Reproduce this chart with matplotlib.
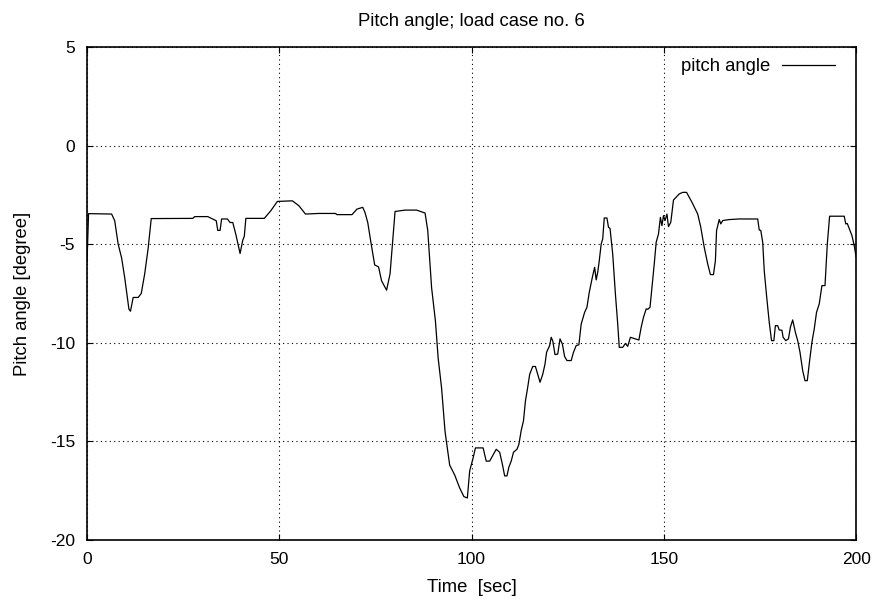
import matplotlib
matplotlib.use('Agg')
import matplotlib.pyplot as plt

plt.rcParams['font.family'] = ['Liberation Sans', 'DejaVu Sans']
plt.rcParams['axes.unicode_minus'] = False

# pitch angle trace (time in sec, angle in degree)
time_s = [0.0, 0.4, 6.4, 7.2, 8.1, 9.0, 9.8, 10.9, 11.3, 12.0, 13.3, 14.1, 15.0, 15.9, 16.7,
          27.5, 28.0, 31.4, 33.6, 34.0, 34.6, 35.0, 36.5, 37.2, 37.9, 38.7, 39.8, 40.5, 40.9,
          41.3, 46.1, 47.8, 49.5, 53.4, 55.1, 56.8, 60.3, 64.6, 65.0, 68.9, 70.2, 71.7, 72.3,
          73.0, 73.9, 74.8, 75.8, 76.6, 77.9, 78.8, 80.1, 82.7, 85.7, 87.9, 88.6, 89.6, 90.6,
          91.3, 92.2, 93.1, 94.3, 95.6, 96.9, 98.0, 98.9, 99.5, 100.4, 101.0, 103.0, 103.8,
          104.7, 106.4,
          107.3, 108.0, 108.6, 109.2, 109.7, 110.3, 110.9, 111.8, 112.3, 112.9, 113.5, 114.0,
          114.6, 115.1, 115.9, 116.6, 117.8, 118.5, 119.1, 119.5, 120.3, 120.7, 121.1, 121.7,
          122.4, 123.0, 123.6, 124.2, 124.8, 125.9, 126.5, 127.2, 127.9, 128.5, 129.4, 130.0,
          130.6, 131.4, 132.0, 132.4, 132.8, 133.2, 133.7, 134.1,
          134.5, 135.2, 135.6, 136.0, 136.7, 137.4, 138.0, 138.4, 139.3, 140.0, 140.6, 141.3,
          143.5, 144.1, 144.7, 145.4, 145.8, 146.4, 146.9, 147.5, 148.0, 148.6, 149.1, 149.5,
          149.9, 150.3, 150.8, 151.2, 151.8, 152.5, 154.0, 154.9, 155.9, 157.3, 158.8, 159.6,
          160.5, 161.4, 162.1, 162.9, 163.4, 163.7, 164.4, 164.8, 165.3, 167.0, 169.6,
          174.4, 174.8, 175.2, 175.7, 176.1, 176.7, 177.4, 178.0, 178.6, 179.0, 179.6, 180.0,
          180.7, 181.0, 181.7, 182.4, 182.9, 183.5, 184.2, 184.8, 185.4, 186.1, 186.7, 187.3,
          187.8, 188.5, 189.1, 189.7, 190.4, 191.1, 191.9, 192.5, 193.1, 196.9, 197.3, 197.7,
          198.4, 198.9, 199.5, 200.0]
pitch_deg = [-5.9, -3.45, -3.47, -3.81, -5.0, -5.7, -6.7, -8.3, -8.4, -7.7, -7.7, -7.5, -6.5, -5.2, -3.7,
             -3.69, -3.6, -3.6, -3.81, -4.3, -4.3, -3.72, -3.72, -3.9, -3.9, -4.5, -5.47, -4.8, -4.6,
             -3.69, -3.69, -3.3, -2.83, -2.8, -3.05, -3.47, -3.44, -3.44, -3.5, -3.5, -3.22, -3.13, -3.4,
             -3.9, -5.0, -6.05, -6.15, -6.86, -7.33, -6.5, -3.34, -3.27, -3.27, -3.42, -4.3, -7.2, -8.9,
             -10.76, -12.3, -14.5, -16.2, -16.7, -17.36, -17.8, -17.87, -16.5, -15.84, -15.33, -15.33, -16.0,
             -16.0, -15.4,
             -15.55, -16.15, -16.75, -16.75, -16.3, -16.0, -15.55, -15.4, -15.15, -14.45, -13.95, -12.95,
             -12.25, -11.6, -11.2, -11.2, -12.0, -11.6, -11.07, -10.48, -10.14, -9.72, -9.9, -10.6,
             -10.57, -9.8, -10.06, -10.7, -10.9, -10.9, -10.48, -10.14, -10.1, -9.05, -8.45, -8.2,
             -7.44, -6.68, -6.17, -6.81, -6.42, -5.84, -4.99, -4.73,
             -3.67, -3.67, -4.14, -4.2, -5.5, -7.53, -9.05, -10.23, -10.23, -10.03, -10.18, -9.72,
             -9.86, -9.21, -8.71, -8.28, -8.3, -8.2, -7.19, -6.0, -4.9, -4.48, -3.64, -4.06,
             -3.55, -3.8, -3.47, -4.11, -3.89, -2.76, -2.45, -2.37, -2.37, -2.87, -3.47, -4.14,
             -5.16, -6.0, -6.54, -6.54, -5.84, -4.31, -3.75, -3.97, -3.8, -3.75, -3.72,
             -3.72, -4.28, -4.3, -4.9, -6.34, -7.6, -8.96, -9.89, -9.89, -9.13, -9.13, -9.35,
             -9.36, -9.72, -9.89, -9.8, -9.21, -8.84, -9.47, -9.89, -10.48, -11.41, -11.92, -11.92,
             -11.07, -9.97, -9.3, -8.45, -8.03, -7.1, -7.1, -4.99, -3.58, -3.58, -3.97, -3.95,
             -4.3, -4.56, -5.07, -5.66]

x_ticks = [0, 50, 100, 150, 200]
y_ticks = [5, 0, -5, -10, -15, -20]

fig = plt.figure(figsize=(8.79, 5.99), dpi=100)
ax = fig.add_axes([0.099, 0.0985, 0.875, 0.823])

ax.plot(time_s, pitch_deg, color='black', linewidth=0.9, label='pitch angle')

ax.set_xlim(0, 200)
ax.set_ylim(-20, 5)
ax.set_xticks(x_ticks)
ax.set_yticks(y_ticks)
ax.grid(True, color='black', linestyle=(0, (1, 3)), linewidth=0.8)
ax.tick_params(direction='in', top=True, right=True, length=4, labelsize=12.5, pad=8.5)
for sp in ax.spines.values():
    sp.set_linewidth(1.2)

ax.set_title('Pitch angle; load case no. 6', fontsize=13.3, pad=15)
ax.set_xlabel('Time  [sec]', fontsize=13.3, labelpad=8.5)
ax.set_ylabel('Pitch angle [degree]', fontsize=13.3, labelpad=14)
ax.legend(loc='upper right', bbox_to_anchor=(0.982, 0.992), frameon=False, markerfirst=False,
          fontsize=13.3, handlelength=2.87, handletextpad=0.65, borderaxespad=0)

fig.savefig('out.png', dpi=100)
